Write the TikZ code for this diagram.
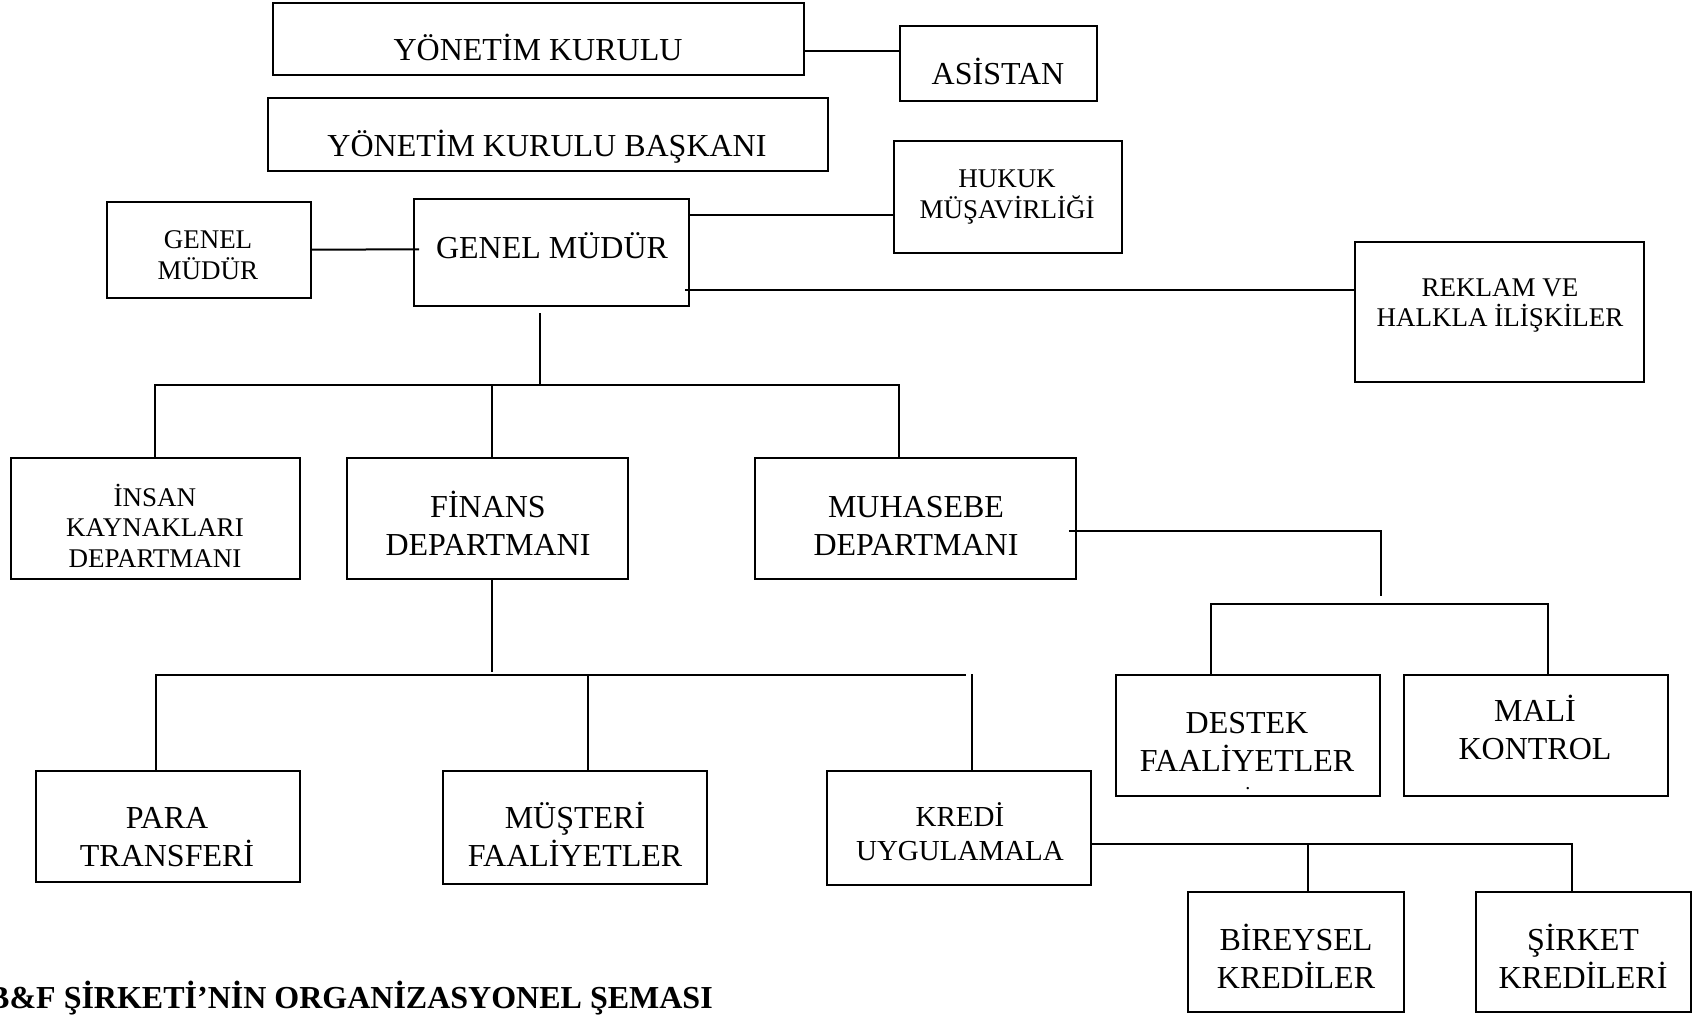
\documentclass[tikz,border=0pt]{standalone}
\usepackage{fontspec}
\setmainfont{Liberation Serif}
\newcommand\bigtxt{\fontsize{32}{37.7}\selectfont}
\newcommand\midtxt{\fontsize{29}{34.2}\selectfont}
\newcommand\smalltxt{\fontsize{27}{30.5}\selectfont}
\begin{document}
\begin{tikzpicture}[x=1pt,y=-1pt,
  box/.style={draw, line width=2pt, inner sep=0pt},
  % multi-line labels sit on the baseline of their last line
  lbl/.style={anchor=base, align=center, inner sep=0pt},
  wire/.style={line width=2pt}]
\useasboundingbox (0,0) rectangle (1693,1014);
\clip (0,0) rectangle (1693,1014);

% boxes
\node[box, minimum width=531.2pt, minimum height=72pt]    (yk)       at (538.2,38.7)   {};
\node[box, minimum width=197.5pt, minimum height=75.3pt]  (asistan)  at (998.25,63.65) {};
\node[box, minimum width=559.8pt, minimum height=72.4pt]  (ykb)      at (547.7,134.5)  {};
\node[box, minimum width=227.5pt, minimum height=112.6pt] (hukuk)    at (1007.75,197)  {};
\node[box, minimum width=203.3pt, minimum height=96pt]    (gms)      at (209,249.7)    {};
\node[box, minimum width=275.4pt, minimum height=106.7pt] (gm)       at (551.7,252.65) {};
\node[box, minimum width=288.6pt, minimum height=139.4pt] (reklam)   at (1499.7,312)   {};
\node[box, minimum width=288.9pt, minimum height=120.7pt] (insan)    at (155.25,518.65){};
\node[box, minimum width=280.7pt, minimum height=120.7pt] (finans)   at (487.25,518.65){};
\node[box, minimum width=320.8pt, minimum height=120.7pt] (muhasebe) at (915.4,518.65) {};
\node[box, minimum width=263.9pt, minimum height=111.6pt] (para)     at (167.75,826.5) {};
\node[box, minimum width=263.9pt, minimum height=113.6pt] (musteri)  at (575.35,827.5) {};
\node[box, minimum width=264.4pt, minimum height=114pt]   (kredi)    at (959.2,828)    {};
\node[box, minimum width=264.4pt, minimum height=120.6pt] (destek)   at (1247.8,735.6) {};
\node[box, minimum width=263.9pt, minimum height=120.6pt] (mali)     at (1535.75,735.6){};
\node[box, minimum width=216.2pt, minimum height=119.8pt] (bireysel) at (1295.7,952.1) {};
\node[box, minimum width=215pt,   minimum height=119.8pt] (sirket)   at (1583.3,952.1) {};

% box texts
\node[lbl, font=\bigtxt]   (yk-t)       at (538,61)     {YÖNETİM KURULU};
\node[lbl, font=\bigtxt]   (asistan-t)  at (998,85)     {ASİSTAN};
\node[lbl, font=\bigtxt]   (ykb-t)      at (547,156.7)  {YÖNETİM KURULU BAŞKANI};
\node[lbl, font=\smalltxt] (hukuk-t)    at (1007,218.3) {HUKUK\\MÜŞAVİRLİĞİ};
\node[lbl, font=\smalltxt] (gms-t)      at (208,279.3)  {GENEL\\MÜDÜR};
\node[lbl, font=\bigtxt]   (gm-t)       at (552,258)    {GENEL MÜDÜR};
\node[lbl, font=\smalltxt] (reklam-t)   at (1500,326.7) {REKLAM VE\\HALKLA İLİŞKİLER};
\node[lbl, font=\smalltxt] (insan-t)    at (155,567.3)  {İNSAN\\KAYNAKLARI\\DEPARTMANI};
\node[lbl, font=\bigtxt]   (finans-t)   at (488,555)    {FİNANS\\DEPARTMANI};
\node[lbl, font=\bigtxt]   (muhasebe-t) at (916,555)    {MUHASEBE\\DEPARTMANI};
\node[lbl, font=\bigtxt]   (para-t)     at (167,866)    {PARA\\TRANSFERİ};
\node[lbl, font=\bigtxt]   (musteri-t)  at (575,866)    {MÜŞTERİ\\FAALİYETLER};
\node[lbl, font=\midtxt]   (kredi-t)    at (960,860.5)  {KREDİ\\UYGULAMALA};
\node[lbl, font=\bigtxt]   (destek-t)   at (1247,771)   {DESTEK\\FAALİYETLER};
\node[lbl, font=\fontsize{20}{24}\selectfont] (destek-dot) at (1247.8,789) {.};
\node[lbl, font=\bigtxt]   (mali-t)     at (1535,759)   {MALİ\\KONTROL};
\node[lbl, font=\bigtxt]   (bireysel-t) at (1296,988.5) {BİREYSEL\\KREDİLER};
\node[lbl, font=\bigtxt]   (sirket-t)   at (1583,988.5) {ŞİRKET\\KREDİLERİ};

% caption
\node[anchor=base west, inner sep=0pt, font=\bfseries\fontsize{32}{38}\selectfont]
  (title) at (-12,1008.3) {B\&F ŞİRKETİ’NİN ORGANİZASYONEL ŞEMASI};

% bus points
\coordinate (gm-stub)  at (540,313);
\coordinate (bus1)     at (540,385);
\coordinate (fin-stub) at (491.6,672.3);
\coordinate (fin-bus)  at (965.6,675.3);
\coordinate (acc-drop) at (1380.6,596.3);
\coordinate (acc-bus)  at (1380.6,603.6);

% connectors
\draw[wire] ([yshift=-12pt]yk.east) -- ([yshift=12.95pt]asistan.west);
\draw[wire] (gms.east) -- ([xshift=6pt,yshift=3.35pt]gm.west);
\draw[wire] ([yshift=37.65pt]gm.east) -- ([yshift=-18pt]hukuk.west);
\draw[wire] ([xshift=-5.4pt,yshift=-37.35pt]gm.east) -- ([yshift=22pt]reklam.west);
\draw[wire] (gm-stub) -- (bus1);
\draw[wire] (insan.north) |- (bus1) -| ([xshift=-16.4pt]muhasebe.north);
\draw[wire] ([xshift=4.35pt]finans.north) -- ++(0,-73.3);
\draw[wire] ([xshift=4.35pt]finans.south) -- (fin-stub);
\draw[wire] ([xshift=-11.75pt]para.north) |- (fin-bus);
\draw[wire] ([xshift=12.15pt]musteri.north) -- ++(0,-95.4);
\draw[wire] ([xshift=12.3pt]kredi.north) -- ++(0,-95.7);
\draw[wire] ([xshift=-8pt,yshift=-12.15pt]muhasebe.east) -| (acc-drop);
\draw[wire] ([xshift=-36.5pt]destek.north) |- (acc-bus) -| ([xshift=12pt]mali.north);
\draw[wire] ([yshift=-16.4pt]kredi.east) -| ([xshift=-11.8pt]sirket.north);
\draw[wire] ([xshift=12.3pt]bireysel.north) -- ++(0,-47.8);
\end{tikzpicture}
\end{document}
